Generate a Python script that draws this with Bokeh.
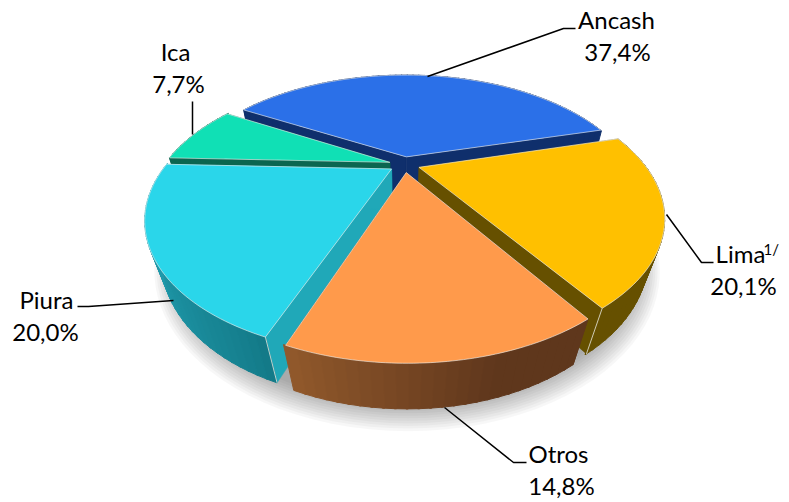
import math
from bokeh.plotting import figure
from bokeh.embed import file_html
from bokeh.resources import INLINE
from bokeh.core.properties import value

# ---- data ----
categories = ["Ancash", "Lima", "Otros", "Piura", "Ica"]
shares = [37.4, 20.1, 14.8, 20.0, 7.7]
share_labels = ["37,4%", "20,1%", "14,8%", "20,0%", "7,7%"]
top_colors = ["#2B70E8", "#FFC000", "#FF9A4B", "#2AD6EA", "#10E0B5"]
radial_colors = ["#0F2F6C", "#665000", "#62391D", "#20A8B8", "#0B6650"]
rim_light = ["#0F2F6C", "#665000", "#935A2C", "#27ACBF", "#0B6650"]
rim_dark = ["#0F2F6C", "#665000", "#5F371C", "#137A88", "#0B6650"]

# ---- projection (unit disc to picture pixels) ----
CX, CY = 404, 164
F, G, K = 236, 121, 0.372
M, H = 0.06, 43
R, EXPLODE = 0.955, 0.065
START = -60.0


def project(X, Y, Z=0.0):
    w = 1 - K * Y - M * Z
    return CX + F * X / w, CY + (G * Y - H * Z) / w


def rim_point(theta, off, Z=0.0, r=R):
    t = math.radians(theta)
    return project(off[0] + r * math.sin(t), off[1] - r * math.cos(t), Z)


def mix(a, b, f):
    ca = [int(a[i:i + 2], 16) for i in (1, 3, 5)]
    cb = [int(b[i:i + 2], 16) for i in (1, 3, 5)]
    return "#%02x%02x%02x" % tuple(round(x + (y - x) * f) for x, y in zip(ca, cb))


p = figure(width=789, height=502, x_range=(0, 789), y_range=(502, 0),
           output_backend="svg", toolbar_location=None, min_border=0,
           x_axis_location=None, y_axis_location=None, outline_line_color=None,
           background_fill_color="white", border_fill_color="white")
p.grid.visible = False

# soft shadow under the pie
for i in range(12):
    r = 1.06 - i * 0.008
    pts = [rim_point(a, (0.01, 0.01), -1.15, r) for a in range(0, 360, 3)]
    p.patch([q[0] for q in pts], [q[1] for q in pts], fill_color="#000000",
            fill_alpha=0.03, line_color=None)

# slice geometry
spans = []
a = START
for s in shares:
    spans.append((a, a + s * 3.6))
    a += s * 3.6

for i in [0, 4, 1, 3, 2]:
    a0, a1 = spans[i]
    mid = math.radians((a0 + a1) / 2)
    off = (EXPLODE * math.sin(mid), -EXPLODE * math.cos(mid))
    ap_t, ap_b = project(*off), project(*off, -1.0)

    # radial faces
    for th in (a0, a1):
        q0, q1 = rim_point(th, off), rim_point(th, off, -1.0)
        p.patch([ap_t[0], q0[0], q1[0], ap_b[0]], [ap_t[1], q0[1], q1[1], ap_b[1]],
                fill_color=radial_colors[i], line_color=radial_colors[i], line_width=0.5)

    # outer rim, shaded step by step
    n = max(8, int((a1 - a0) / 2))
    for j in range(n):
        t0 = a0 + (a1 - a0) * j / n
        t1 = a0 + (a1 - a0) * (j + 1) / n
        if categories[i] == "Otros":
            f = min(1.0, max(0.0, (a1 - t0) / (a1 - a0 - 17)))
        elif categories[i] == "Piura":
            f = 1 - min(1.0, (t0 - a0) / (a1 - a0)) ** 0.8
        else:
            f = 0
        col = mix(rim_light[i], rim_dark[i], f)
        q = [rim_point(t0, off), rim_point(t1 + 0.4, off), rim_point(t1 + 0.4, off, -1.0), rim_point(t0, off, -1.0)]
        p.patch([u[0] for u in q], [u[1] for u in q], fill_color=col, line_color=col, line_width=1)

    # light edges at the rim ends
    if categories[i] != "Otros":
        for th in (a0, a1):
            q0, q1 = rim_point(th, off), rim_point(th, off, -1.0)
            if q0[1] > CY + 60:
                p.line([q0[0], q1[0]], [q0[1], q1[1]], line_color="#E8E8E0", line_alpha=0.8, line_width=1)

    # top face
    arc = [rim_point(a0 + (a1 - a0) * j / 60, off) for j in range(61)]
    xs = [ap_t[0]] + [u[0] for u in arc]
    ys = [ap_t[1]] + [u[1] for u in arc]
    p.patch(xs, ys, fill_color=top_colors[i], line_color="#F4F4F0", line_alpha=0.6, line_width=1)

# leader lines
leaders = [
    ([427, 563, 575], [76, 28, 28]),
    ([666, 701, 713], [214, 262, 262]),
    ([444, 513, 526], [407, 462, 462]),
    ([173, 88, 77], [300, 306, 306]),
    ([192, 192], [101, 134]),
]
for lx, ly in leaders:
    p.line(lx, ly, line_color="#000000", line_width=1.5)

# labels
name_pos = [(616, 19), (740, 253), (558, 453), (46, 299), (175, 51)]
value_pos = [(617, 51), (743, 285), (561, 485), (45, 331), (178, 83)]
for i in range(5):
    p.text([name_pos[i][0]], [name_pos[i][1]], text=[categories[i]], text_font=value("Lato"),
           text_font_size="24px", text_align="center", text_baseline="middle", text_color="#000000")
    p.text([value_pos[i][0]], [value_pos[i][1]], text=[share_labels[i]], text_font=value("Lato"),
           text_font_size="24px", text_align="center", text_baseline="middle", text_color="#000000")
p.text([763], [248], text=["1/"], text_font=value("Lato"), text_font_size="15px",
       text_align="left", text_baseline="middle", text_color="#000000")

open("out.html", "w").write(file_html(p, INLINE))
